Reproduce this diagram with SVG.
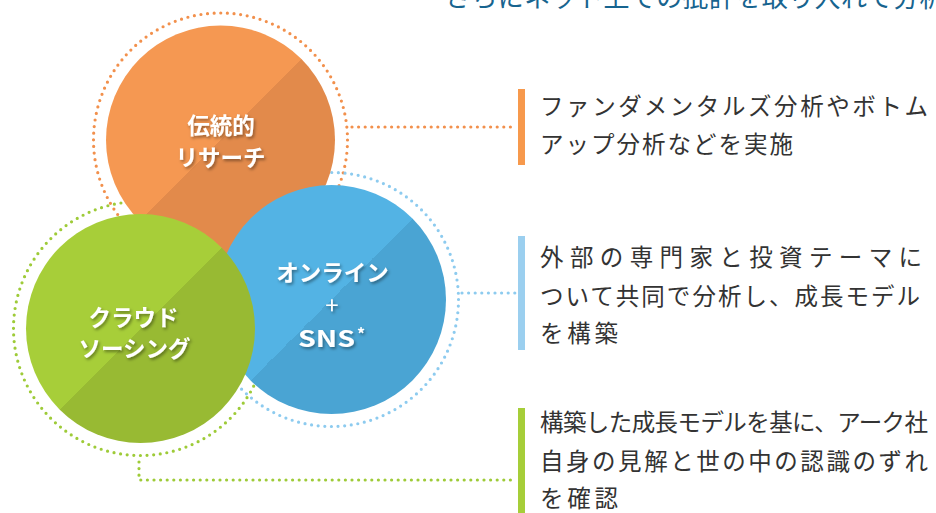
<svg xmlns="http://www.w3.org/2000/svg" width="936" height="513" viewBox="0 0 936 513">
  <defs>
    <linearGradient id="gOrange" x1="0" y1="0" x2="1" y2="1">
      <stop offset="0.5" stop-color="#F59852"/>
      <stop offset="0.5" stop-color="#E28A4B"/>
    </linearGradient>
    <linearGradient id="gBlue" x1="0" y1="0" x2="1" y2="1">
      <stop offset="0.5" stop-color="#53B3E4"/>
      <stop offset="0.5" stop-color="#4AA4D3"/>
    </linearGradient>
    <linearGradient id="gGreen" x1="0" y1="0" x2="1" y2="1">
      <stop offset="0.5" stop-color="#A7CE39"/>
      <stop offset="0.5" stop-color="#98BA33"/>
    </linearGradient>
    <filter id="tshadow" x="-20%" y="-40%" width="140%" height="180%">
      <feDropShadow dx="1.5" dy="2" stdDeviation="1.4" flood-color="#000" flood-opacity="0.4"/>
    </filter>
    <style>
      .ring { fill: none; stroke-width: 3.2; stroke-linecap: round; stroke-dasharray: 0 6.65; }
      .dots { fill: none; stroke-width: 3.2; stroke-linecap: round; stroke-dasharray: 0 6.6; }
      .orange { stroke: #F2904C; }
      .blue { stroke: #8DCBEF; }
      .green { stroke: #9ECB38; }
      .ctext { font-family: "Noto Sans CJK JP", "Noto Sans", sans-serif; font-weight: bold; font-size: 22.5px; fill: #FFFFFF; text-anchor: middle; }
      .desc { font-family: "Noto Sans CJK JP", "Noto Sans", sans-serif; font-size: 23.5px; fill: #333333; }
      .title { font-family: "Noto Sans CJK JP", "Noto Sans", sans-serif; font-size: 26px; fill: #17648F; letter-spacing: 0.4px; }
    </style>
  </defs>

  <rect width="936" height="513" fill="#FFFFFF"/>

  <text class="title" x="445" y="7">さらにネット上での批評を取り入れて分析</text>

  <g id="rings">
    <circle class="ring orange" cx="220.5" cy="140" r="127"/>
    <circle class="ring blue" cx="331.5" cy="299.5" r="127"/>
    <circle class="ring green" cx="140.5" cy="328.5" r="127"/>
  </g>

  <g id="connectors">
    <path class="dots orange" d="M352 127 H515"/>
    <path class="dots blue" d="M462 293 H515"/>
    <path class="dots green" d="M139 462 V480 H515"/>
  </g>

  <g id="node-traditional">
    <circle cx="220.5" cy="140" r="114.5" fill="url(#gOrange)"/>
    <g filter="url(#tshadow)">
      <text class="ctext" x="221" y="134">伝統的</text>
      <text class="ctext" x="220.5" y="166">リサーチ</text>
    </g>
  </g>

  <g id="node-online">
    <circle cx="331.5" cy="299.5" r="114.5" fill="url(#gBlue)"/>
    <g filter="url(#tshadow)">
      <text class="ctext" x="332.5" y="281">オンライン</text>
      <text class="ctext" x="332" y="314" style="font-weight:normal;font-size:24px">+</text>
      <text class="ctext" x="326.5" y="347" textLength="57" lengthAdjust="spacingAndGlyphs">SNS</text>
      <text class="ctext" x="361" y="340" style="font-size:16px">*</text>
    </g>
  </g>

  <g id="node-crowd">
    <circle cx="140.5" cy="328.5" r="114.5" fill="url(#gGreen)"/>
    <g filter="url(#tshadow)">
      <text class="ctext" x="133.5" y="326">クラウド</text>
      <text class="ctext" x="134.5" y="357">ソーシング</text>
    </g>
  </g>

  <g id="desc-traditional">
    <rect x="518" y="89" width="7" height="76" fill="#F7994C"/>
    <text class="desc" x="540" y="115" textLength="388" lengthAdjust="spacing">ファンダメンタルズ分析やボトム</text>
    <text class="desc" x="540" y="153" textLength="253" lengthAdjust="spacing">アップ分析などを実施</text>
  </g>

  <g id="desc-online">
    <rect x="518" y="236" width="7" height="114" fill="#9BCFEF"/>
    <text class="desc" x="540" y="266" textLength="382" lengthAdjust="spacing">外部の専門家と投資テーマに</text>
    <text class="desc" x="540" y="305" textLength="380" lengthAdjust="spacing">ついて共同で分析し、成長モデル</text>
    <text class="desc" x="540" y="342" textLength="78" lengthAdjust="spacing">を構築</text>
  </g>

  <g id="desc-crowd">
    <rect x="518" y="408" width="7" height="105" fill="#A6CE39"/>
    <text class="desc" x="540" y="431" textLength="388" lengthAdjust="spacing">構築した成長モデルを基に、アーク社</text>
    <text class="desc" x="540" y="470" textLength="388" lengthAdjust="spacing">自身の見解と世の中の認識のずれ</text>
    <text class="desc" x="540" y="507" textLength="78" lengthAdjust="spacing">を確認</text>
  </g>
</svg>
